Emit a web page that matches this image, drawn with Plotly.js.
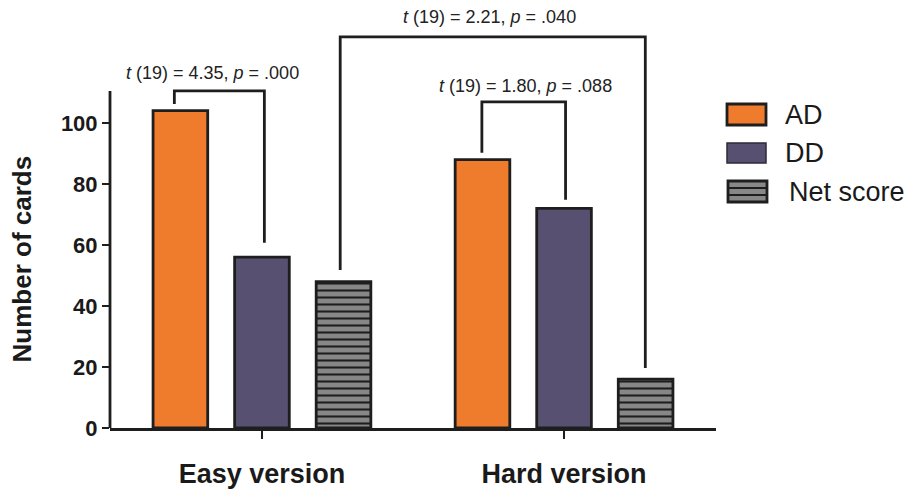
<!DOCTYPE html>
<html>
<head>
<meta charset="utf-8">
<script src="https://cdn.plot.ly/plotly-3.0.1.min.js"></script>
<style>html,body{margin:0;padding:0;background:#fff}#chart{width:906px;height:490px}</style>
</head>
<body>
<div id="chart"></div>
<script>
// ---- data ----
var categories = ['Easy version', 'Hard version'];
var categoryPos = [0, 1];
var seriesNames = ['AD', 'DD', 'Net score'];
var adValues = [104, 88];
var ddValues = [56, 72];
var netValues = [48, 16];
var yTickVals = [0, 20, 40, 60, 80, 100];
var yTitle = 'Number of cards';

// significance brackets: [left x, right x, left leg bottom, top, right leg bottom]
var bracketLeftX = [-0.29, 0.728, 0.259];
var bracketRightX = [0.008, 1.005, 1.269];
var bracketLeftY = [106.2, 90.2, 51.8];
var bracketTopY = [110.5, 106.9, 128.2];
var bracketRightY = [60.7, 74.8, 19.7];
var bracketLabels = ['<i>t</i> (19) = 4.35, <i>p</i> = .000',
                     '<i>t</i> (19) = 1.80, <i>p</i> = .088',
                     '<i>t</i> (19) = 2.21, <i>p</i> = .040'];
var labelX = [-0.163, 0.871, 0.754];
var labelY = [116.4, 112.1, 134.8];
var yAxisTop = 110.5;

// ---- style ----
var FONT = 'Liberation Sans, Arial, Helvetica, sans-serif';
var INK = '#1e1e1e';
var colAD = '#EF7B2D', colDD = '#585070', colNet = '#878787';
var W = 906, H = 490, ml = 110, mr = 190, mt = 7, mb = 62;
var plotW = W - ml - mr, plotH = H - mt - mb;
function pxX(x) { return (x - ml) / plotW; }
function pxY(y) { return (H - mb - y) / plotH; }

var outline = {color: INK, width: 2.8};
var traces = [
  {type: 'bar', name: seriesNames[0], x: categoryPos, y: adValues,
   marker: {color: colAD, line: outline}, showlegend: false, hoverinfo: 'y'},
  {type: 'bar', name: seriesNames[1], x: categoryPos, y: ddValues,
   marker: {color: colDD, line: outline}, showlegend: false, hoverinfo: 'y'},
  {type: 'bar', name: seriesNames[2], x: categoryPos, y: netValues,
   marker: {color: colNet, line: outline,
            pattern: {shape: '-', fgcolor: INK, bgcolor: colNet, size: 7, solidity: 0.3, fillmode: 'replace'}},
   showlegend: false, hoverinfo: 'y'}
];

var shapes = [];
var annotations = [];
// y axis line (ends at top of the value range)
shapes.push({type: 'line', xref: 'paper', yref: 'y', x0: 0, x1: 0, y0: 0, y1: yAxisTop,
             line: {color: INK, width: 2.8}});
// y axis title, centred on the drawn axis line
annotations.push({xref: 'paper', yref: 'y', x: pxX(22), y: yAxisTop / 2, text: yTitle,
  textangle: -90, showarrow: false, xanchor: 'center', yanchor: 'middle',
  font: {family: FONT, size: 26, weight: 'bold', color: '#1a1a1a'}});
// brackets
for (var i = 0; i < bracketLeftX.length; i++) {
  shapes.push({type: 'path', xref: 'x', yref: 'y',
    path: 'M' + bracketLeftX[i] + ',' + bracketLeftY[i] +
          ' L' + bracketLeftX[i] + ',' + bracketTopY[i] +
          ' L' + bracketRightX[i] + ',' + bracketTopY[i] +
          ' L' + bracketRightX[i] + ',' + bracketRightY[i],
    line: {color: INK, width: 2.8}});
  annotations.push({xref: 'x', yref: 'y', x: labelX[i], y: labelY[i], text: bracketLabels[i],
    showarrow: false, xanchor: 'center', yanchor: 'middle',
    font: {family: FONT, size: 18, color: '#222'}});
}
// custom legend
var legendFills = [colAD, colDD, colNet];
var legendBox = [[727, 766, 104, 125], [727, 766, 143, 163], [728, 767, 181, 202]];
var legendTextX = [783, 783, 787];
var legendTextY = [115, 153, 191.5];
for (var k = 0; k < seriesNames.length; k++) {
  var b = legendBox[k];
  shapes.push({type: 'rect', xref: 'paper', yref: 'paper',
    x0: pxX(b[0]), x1: pxX(b[1]), y0: pxY(b[3]), y1: pxY(b[2]),
    fillcolor: legendFills[k], line: {color: k === 1 ? '#2e2a3a' : INK, width: k === 1 ? 1.5 : 2.8}});
  annotations.push({xref: 'paper', yref: 'paper', x: pxX(legendTextX[k]), y: pxY(legendTextY[k]),
    text: seriesNames[k], showarrow: false, xanchor: 'left', yanchor: 'middle',
    font: {family: FONT, size: 27, color: '#1a1a1a'}});
}
// stripes in the Net score legend swatch
var nb = legendBox[2];
[188, 195].forEach(function (sy) {
  shapes.push({type: 'line', xref: 'paper', yref: 'paper',
    x0: pxX(nb[0]), x1: pxX(nb[1]), y0: pxY(sy), y1: pxY(sy),
    line: {color: INK, width: 2}});
});

var layout = {
  width: W, height: H,
  margin: {l: ml, r: mr, t: mt, b: mb, pad: 0},
  paper_bgcolor: '#fff', plot_bgcolor: '#fff',
  font: {family: FONT, color: '#1a1a1a'},
  barmode: 'group', bargap: 0.19, bargroupgap: 0.33,
  showlegend: false,
  xaxis: {
    range: [-0.503, 1.503], tickvals: categoryPos, ticktext: categories,
    showline: true, linecolor: INK, linewidth: 2.8, showgrid: false, zeroline: false,
    ticks: 'outside', ticklen: 8, tickwidth: 2.8, tickcolor: INK,
    ticklabelstandoff: 12,
    tickfont: {family: FONT, size: 27, weight: 'bold', color: '#1a1a1a'}, fixedrange: true
  },
  yaxis: {
    range: [0, 138], tickvals: yTickVals,
    showline: false, showgrid: false, zeroline: false,
    ticks: 'outside', ticklen: 7, tickwidth: 2.8, tickcolor: INK,
    tickfont: {family: FONT, size: 22, weight: 'bold', color: '#1a1a1a'},
    fixedrange: true
  },
  shapes: shapes,
  annotations: annotations
};

Plotly.newPlot('chart', traces, layout, {displayModeBar: false, staticPlot: true});
</script>
</body>
</html>
